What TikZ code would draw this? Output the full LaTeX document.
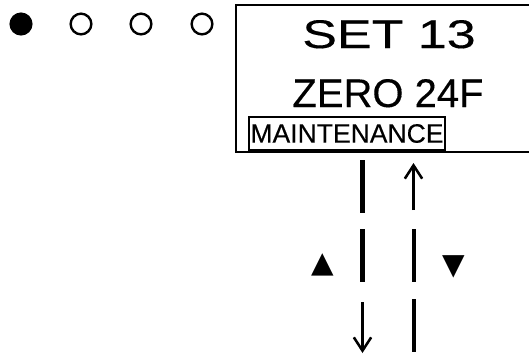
\documentclass[tikz,border=0pt]{standalone}
\usepackage{fontspec}
\setmainfont[FakeBold=0.3]{Liberation Sans}
\newfontfamily\symfont{DejaVu Sans}
\usetikzlibrary{arrows.meta}
\begin{document}
\begin{tikzpicture}[x=0.75pt,y=-0.75pt,
  bar/.style={line width=3.5pt},
  arr/.style={line width=1.9pt,-{Straight Barb[length=10pt,width=13pt]}},
  dot/.style={circle,line width=1.8pt,draw,minimum size=15.5pt,inner sep=0pt},
  tri/.style={inner sep=0pt,font=\symfont\fontsize{22}{22}\selectfont}
]
\clip (0,0) rectangle (529,354);
\useasboundingbox (0,0) rectangle (529,354);
% indicator dots
\node[dot,fill=black] (d1) at (21,24) {};
\node[dot] (d2) at (81,24) {};
\node[dot] (d3) at (141,24) {};
\node[dot] (d4) at (202,24) {};
% display box
\coordinate (boxtl) at (236,5);
\coordinate (boxbr) at (540,152);
\draw[line width=1.7pt] (boxtl) rectangle (boxbr);
\node[anchor=base,inner sep=0pt,font=\fontsize{30}{30}\selectfont] (set) at (389,48) {\scalebox{1.3}[1]{SET 13}};
\node[anchor=base,inner sep=0pt,font=\fontsize{30}{30}\selectfont] (zero) at (388,107) {ZERO 24F};
\node[draw,line width=1.6pt,minimum width=196*0.75pt,minimum height=33*0.75pt,inner sep=0pt,
  font=\fontsize{19.9}{20}\selectfont] (maint) at (347,133.5) {MAINTENANCE};
% bars and arrows
\coordinate (l1a) at (362.5,160); \coordinate (l1b) at (362.5,213);
\coordinate (l2a) at (362.5,229); \coordinate (l2b) at (362.5,282);
\coordinate (l3a) at (362.5,302); \coordinate (l3b) at (362.5,353);
\coordinate (r1a) at (413.5,210); \coordinate (r1b) at (413.5,163);
\coordinate (r2a) at (414,229);   \coordinate (r2b) at (414,282);
\coordinate (r3a) at (414,299);   \coordinate (r3b) at (414,352);
\draw[bar] (l1a) -- (l1b);
\draw[bar] (l2a) -- (l2b);
\draw[arr] (l3a) -- (l3b);
\draw[arr] (r1a) -- (r1b);
\draw[bar] (r2a) -- (r2b);
\draw[bar] (r3a) -- (r3b);
\node[tri] (up) at (322.5,264.5) {▲};
\node[tri] (down) at (453.5,267) {▼};
\end{tikzpicture}
\end{document}
